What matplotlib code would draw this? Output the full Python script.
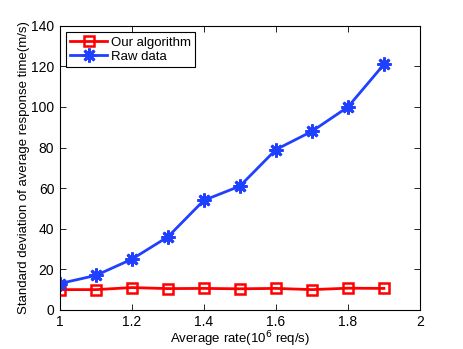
import matplotlib
matplotlib.use("Agg")
import matplotlib.pyplot as plt

x = [1.0, 1.1, 1.2, 1.3, 1.4, 1.5, 1.6, 1.7, 1.8, 1.9]
our_alg = [10.0, 10.0, 11.0, 10.5, 10.6, 10.4, 10.6, 10.0, 10.7, 10.6]
raw_data = [13, 17, 25, 36, 54, 61, 79, 88, 100, 121]
xticks = [1, 1.2, 1.4, 1.6, 1.8, 2]
yticks = [0, 20, 40, 60, 80, 100, 120, 140]

plt.rcParams['font.family'] = ['Liberation Sans', 'DejaVu Sans']
fig = plt.figure(figsize=(4.64, 3.49), dpi=100)
ax = fig.add_axes([0.129, 0.112, 0.776, 0.814])

ax.plot(x, our_alg, color='#ff0000', lw=2, marker='s', ms=7.5, mfc='none', mew=1.8, label='Our algorithm')
ax.plot(x, raw_data, color='#2040ff', lw=2, marker=(8, 2, 0), ms=10, mew=2, label='Raw data')

ax.set_xlim(1, 2)
ax.set_ylim(0, 140)
ax.set_xticks(xticks)
ax.set_xticklabels(['1', '1.2', '1.4', '1.6', '1.8', '2'])
ax.set_yticks(yticks)
ax.tick_params(direction='in', top=True, right=True, labelsize=10, length=4, width=0.6, pad=4)
for s in ax.spines.values():
    s.set_linewidth(0.8)

ax.set_xlabel('Average rate(10$^6$ req/s)', fontsize=9.5, labelpad=0)
ax.set_ylabel('Standard deviation of average response time(m/s)', fontsize=9.5, labelpad=1)

leg = ax.legend(loc='upper left', fontsize=9.5, fancybox=False, framealpha=1,
                edgecolor='black', borderaxespad=0.5, handlelength=2.8,
                borderpad=0.3, labelspacing=0.15, handletextpad=0.3)
leg.get_frame().set_linewidth(0.8)

fig.savefig('out.png', dpi=100)
